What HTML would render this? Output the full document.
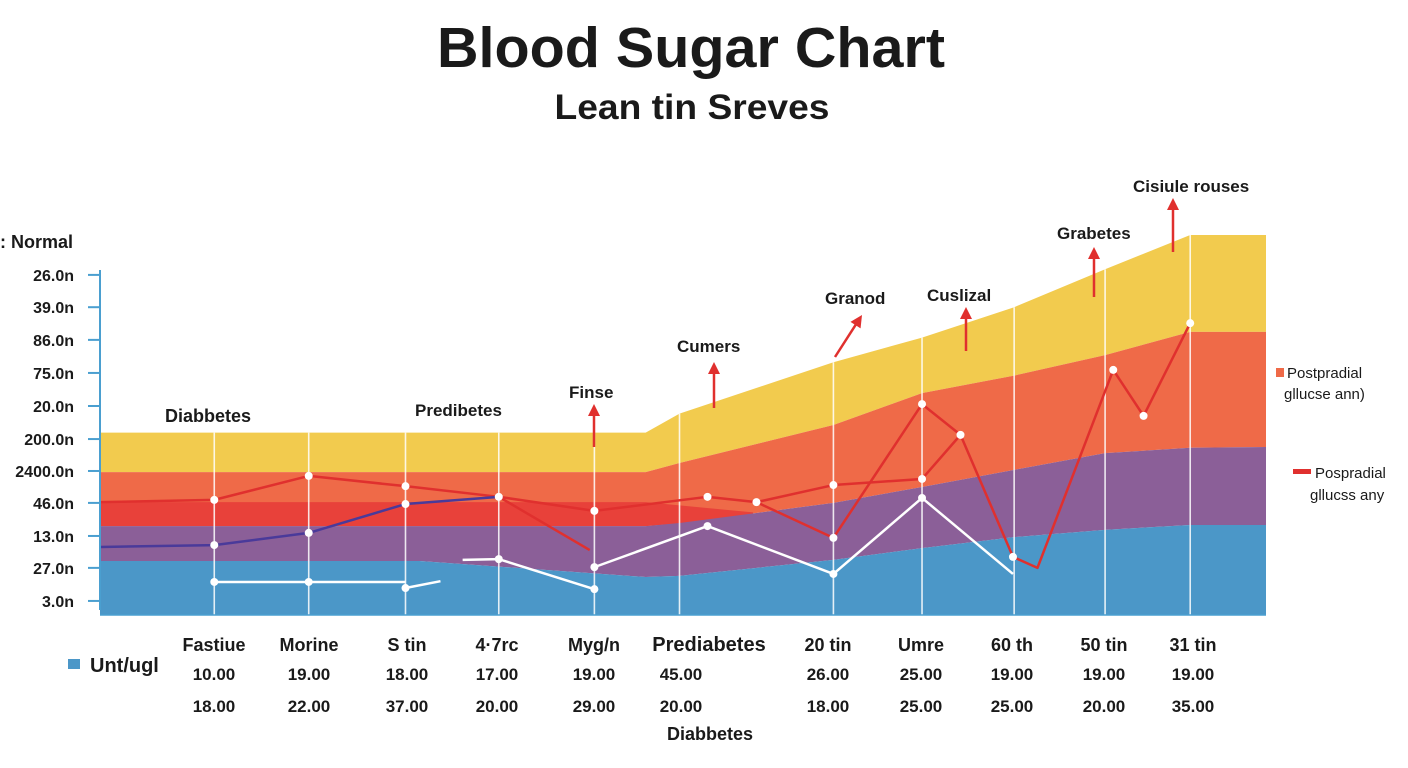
<!DOCTYPE html>
<html><head><meta charset="utf-8"><style>
html,body{margin:0;padding:0;background:#fff;}
svg{display:block;font-family:"Liberation Sans",sans-serif;}
.b{font-weight:bold;fill:#1a1a1a;}
</style></head><body>
<svg id="chart" width="1408" height="768" viewBox="0 0 1408 768">
<text x="691" y="67" text-anchor="middle" class="b" font-size="57" textLength="508" lengthAdjust="spacingAndGlyphs">Blood Sugar Chart</text>
<text x="692" y="119" text-anchor="middle" class="b" font-size="35" textLength="275" lengthAdjust="spacingAndGlyphs">Lean tin Sreves</text>
<text x="0" y="248" class="b" font-size="18">:  Normal</text>
<g id="bands"></g><g id="grid"></g><g id="lines"></g><g id="axis"></g><g id="ann"></g><g id="table"></g>
<rect x="1276" y="368" width="8" height="9" fill="#ef6a48"/>
<text x="1287" y="378" font-size="15" fill="#1a1a1a">Postpradial</text>
<text x="1284" y="399" font-size="15" fill="#1a1a1a">gllucse ann)</text>
<rect x="1293" y="469" width="18" height="5" fill="#e0302e"/>
<text x="1315" y="478" font-size="15" fill="#1a1a1a">Pospradial</text>
<text x="1310" y="500" font-size="15" fill="#1a1a1a">gllucss any</text>
<rect x="68" y="659" width="12" height="10" fill="#4b97c8"/>
<text x="90" y="672" class="b" font-size="20">Unt/ugl</text>
<text x="710" y="740" text-anchor="middle" class="b" font-size="18">Diabbetes</text>
</svg>
<script>
const bandX = [0, 27.4, 46.8, 49.7, 62.9, 70.5, 78.4, 86.2, 93.5, 100];
const bandTop = [48, 48, 48, 53, 66.5, 73, 81, 91, 100, 100];
const bandYellowOrange = [37.6, 37.6, 37.6, 40, 50, 58.4, 63, 68.4, 74.5, 74.5];
const bandOrangePurple = [23.4, 23.4, 23.4, 24.2, 29.5, 33.7, 38.2, 42.6, 44, 44.2];
const bandPurpleBlue = [14.2, 14.2, 10, 10.3, 14.5, 17.6, 20.5, 22.4, 23.7, 23.7];
const redBandX = [0, 46.8, 56];
const redBandTop = [29.7, 29.7, 27];
const redBandBottom = [23.4, 23.4, 25.5];
const gridX = [9.8, 17.9, 26.2, 34.2, 42.4, 49.7, 62.9, 70.5, 78.4, 86.2, 93.5];
const redAX = [0, 9.8, 17.9, 26.2, 34.2, 42.4, 52.1, 56.3, 62.9, 70.5, 73.8, 78.3, 80.4, 86.9, 89.5, 93.5];
const redAY = [29.7, 30.3, 36.6, 33.9, 31.1, 27.4, 31.1, 29.7, 20.3, 55.5, 47.4, 15.3, 12.4, 64.5, 52.4, 76.8];
const redBX = [34.2, 42.0];
const redBY = [31.1, 17.1];
const redCX = [56.3, 62.9, 70.5, 73.8];
const redCY = [29.7, 34.2, 35.8, 47.4];
const purpleX = [0, 9.8, 17.9, 26.2, 34.2];
const purpleY = [17.9, 18.4, 21.6, 29.2, 31.1];
const white1X = [9.8, 17.9, 26.2];
const white1Y = [8.7, 8.7, 8.7];
const white2X = [26.2, 29.2];
const white2Y = [7.1, 8.9];
const white3X = [31.1, 34.2, 42.4];
const white3Y = [14.5, 14.7, 6.8];
const white4X = [42.4, 52.1, 62.9, 70.5, 78.3];
const white4Y = [12.6, 23.4, 10.8, 30.8, 10.8];
const redDotX = [9.8, 17.9, 26.2, 34.2, 42.4, 52.1, 56.3, 62.9, 62.9, 70.5, 70.5, 73.8, 78.3, 86.9, 89.5, 93.5];
const redDotY = [30.3, 36.6, 33.9, 31.1, 27.4, 31.1, 29.7, 20.3, 34.2, 55.5, 35.8, 47.4, 15.3, 64.5, 52.4, 76.8];
const purpleDotX = [9.8, 17.9, 26.2];
const purpleDotY = [18.4, 21.6, 29.2];
const whiteDotX = [9.8, 17.9, 26.2, 34.2, 42.4, 42.4, 52.1, 62.9, 70.5];
const whiteDotY = [8.7, 8.7, 7.1, 14.7, 6.8, 12.6, 23.4, 10.8, 30.8];
const yTicks = [89.5, 81, 72.4, 63.7, 55, 46.3, 37.9, 29.5, 20.8, 12.4, 3.7];
const yTickLabels = ["26.0n","39.0n","86.0n","75.0n","20.0n","200.0n","2400.0n","46.0n","13.0n","27.0n","3.0n"];
const colLabels = ["Fastiue","Morine","S tin","4·7rc","Myg/n","Prediabetes","20 tin","Umre","60 th","50 tin","31 tin"];
const colX = [214, 309, 407, 497, 594, 709, 828, 921, 1012, 1104, 1193];
const row1 = ["10.00","19.00","18.00","17.00","19.00","45.00","26.00","25.00","19.00","19.00","19.00"];
const row2 = ["18.00","22.00","37.00","20.00","29.00","20.00","18.00","25.00","25.00","20.00","35.00"];
const NS="http://www.w3.org/2000/svg";
const xS = u => 100 + u * 11.66;
const yS = v => 615 - v * 3.8;
function mk(tag, parent, attrs){const e=document.createElementNS(NS,tag);for(const k in attrs)e.setAttribute(k,attrs[k]);document.getElementById(parent).appendChild(e);return e;}
function area(xs, top, bot){let d="M"+xs.map((x,i)=>xS(x)+","+yS(top[i])).join("L");for(let i=xs.length-1;i>=0;i--)d+="L"+xS(xs[i])+","+yS(bot[i]);return d+"Z";}
const zeros = bandX.map(()=>0);
let e;
e=mk("path","bands",{d:area(bandX,bandTop,bandYellowOrange),fill:"#f2cb4e"});


e=mk("path","bands",{d:area(bandX,bandYellowOrange,bandOrangePurple),fill:"#ef6a48"});


e=mk("path","bands",{d:area(redBandX,redBandTop,redBandBottom),fill:"#e8413a"});


e=mk("path","bands",{d:area(bandX,bandOrangePurple,bandPurpleBlue),fill:"#8b5f98"});


e=mk("path","bands",{d:area(bandX,bandPurpleBlue,zeros),fill:"#4b97c8"});


function topAt(u){for(let i=1;i<bandX.length;i++){if(u<=bandX[i]){const t=(u-bandX[i-1])/(bandX[i]-bandX[i-1]);return bandTop[i-1]+t*(bandTop[i]-bandTop[i-1]);}}return bandTop[bandTop.length-1];}
gridX.forEach(g=>{const l=mk("line","grid",{x1:xS(g),x2:xS(g),y1:yS(topAt(g)),y2:615,stroke:"#fff","stroke-width":1.6,opacity:0.85});

});
function line(xs,ys,color,w,name){const p=mk("polyline","lines",{points:xs.map((x,i)=>xS(x)+","+yS(ys[i])).join(" "),fill:"none",stroke:color,"stroke-width":w,"stroke-linejoin":"round"});

}
line(redAX,redAY,"#e0302e",2.5,"postprandial-line");
line(redBX,redBY,"#e0302e",2.5,"postprandial-drop-line");
line(redCX,redCY,"#e0302e",2.5,"postprandial-line-2");
line(purpleX,purpleY,"#4a3a9a",2.5,"fasting-line");
line(white1X,white1Y,"#fff",2.5,"normal-line-1");
line(white2X,white2Y,"#fff",2.5,"normal-line-2");
line(white3X,white3Y,"#fff",2.5,"normal-line-3");
line(white4X,white4Y,"#fff",2.5,"normal-line-4");
function dots(xs,ys,name){xs.forEach((x,i)=>{const c=mk("circle","lines",{cx:xS(x),cy:yS(ys[i]),r:4,fill:"#fff"});

});}
dots(redDotX,redDotY,"postprandial-point");
dots(purpleDotX,purpleDotY,"fasting-point");
dots(whiteDotX,whiteDotY,"normal-point");
e=mk("line","axis",{x1:100,x2:100,y1:270,y2:610,stroke:"#4a9fd0","stroke-width":2});


e=mk("line","axis",{x1:100,x2:1266,y1:615,y2:615,stroke:"#4a9fd0","stroke-width":1.5});


yTicks.forEach((v,i)=>{const t=mk("line","axis",{x1:88,x2:100,y1:yS(v),y2:yS(v),stroke:"#4a9fd0","stroke-width":2});


const tx=mk("text","axis",{x:74,y:yS(v)+6,"text-anchor":"end",class:"b","font-size":16});
tx.textContent=yTickLabels[i];

});
const anns=[["Diabbetes",165,422,18,"start"],["Predibetes",415,416,17,"start"],["Finse",569,398,17,"start"],["Cumers",677,352,17,"start"],["Granod",825,304,17,"start"],["Cuslizal",927,301,17,"start"],["Grabetes",1057,239,17,"start"],["Cisiule rouses",1133,192,17,"start"]];
anns.forEach(a=>{const t=mk("text","ann",{x:a[1],y:a[2],class:"b","font-size":a[3]});t.textContent=a[0];

});
const arrows=[[594,447,594,404],[714,408,714,362],[835,357,862,315],[966,351,966,307],[1094,297,1094,247],[1173,252,1173,198]];
arrows.forEach(a=>{const g=mk("g","ann",{});


const ang=Math.atan2(a[3]-a[1],a[2]-a[0]);const hx=a[2],hy=a[3];
const l=document.createElementNS(NS,"line");l.setAttribute("x1",a[0]);l.setAttribute("y1",a[1]);l.setAttribute("x2",hx-Math.cos(ang)*8);l.setAttribute("y2",hy-Math.sin(ang)*8);l.setAttribute("stroke","#e0302e");l.setAttribute("stroke-width",2.5);g.appendChild(l);
const p=document.createElementNS(NS,"polygon");const s=6;
const pts=[[hx,hy],[hx-Math.cos(ang)*12+Math.sin(ang)*s,hy-Math.sin(ang)*12-Math.cos(ang)*s],[hx-Math.cos(ang)*12-Math.sin(ang)*s,hy-Math.sin(ang)*12+Math.cos(ang)*s]];
p.setAttribute("points",pts.map(q=>q.join(",")).join(" "));p.setAttribute("fill","#e0302e");g.appendChild(p);});
colLabels.forEach((c,i)=>{const t=mk("text","table",{x:colX[i],y:651,"text-anchor":"middle",class:"b","font-size":i===5?20:18});t.textContent=c;


const a=mk("text","table",{x:i===5?681:colX[i],y:680,"text-anchor":"middle",class:"b","font-size":17});a.textContent=row1[i];


const b=mk("text","table",{x:i===5?681:colX[i],y:712,"text-anchor":"middle",class:"b","font-size":17});b.textContent=row2[i];

});
</script>
</body></html>
